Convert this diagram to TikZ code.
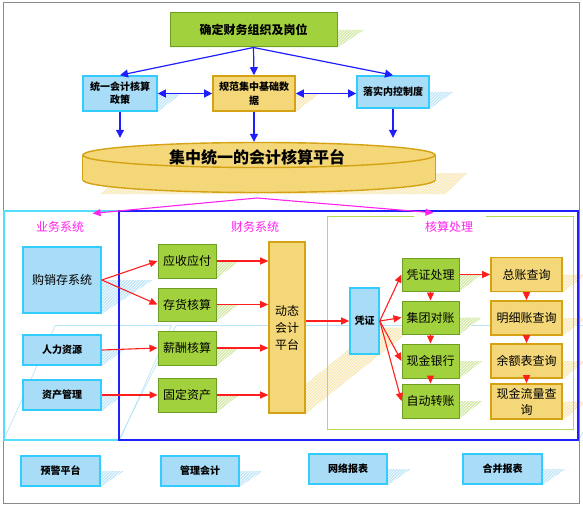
\documentclass[tikz,border=0pt]{standalone}
\usepackage{fontspec}
\setmainfont{Noto Sans CJK SC}
\usetikzlibrary{positioning, arrows.meta, calc, patterns, shapes.geometric}
\definecolor{grnfill}{HTML}{A2D13E}
\definecolor{grnline}{HTML}{6E9E24}
\definecolor{bluefill}{HTML}{A8DCF7}
\definecolor{blueline}{HTML}{33CCFF}
\definecolor{orgfill}{HTML}{F3D779}
\definecolor{orgline}{HTML}{D4A212}
\definecolor{arrowblue}{HTML}{1E1EFF}
\definecolor{arrowred}{HTML}{FF1E1E}
\definecolor{pinkline}{HTML}{FF22EE}
\definecolor{framecyan}{HTML}{55DDFF}
\definecolor{frameblue}{HTML}{2020FF}
\definecolor{framegreen}{HTML}{B2DC52}
\definecolor{outergray}{HTML}{8A8A8A}
\pgfdeclarelayer{background}
\pgfsetlayers{background,main}

% sheared shadow behind a node: node, shear factor, style
\newcommand{\shadowpoly}[3]{%
  \path[#3] let \p1=(#1.south west), \p2=(#1.east), \p3=(#1.south east),
      \n1={#2*(\y2-\y1)} in
    (\p1) -- (\p3) -- ({\x3+\n1},\y2) -- ({\x1+\n1},\y2) -- cycle;}

\begin{document}
\begin{tikzpicture}[
    x=1pt, y=-1pt,
    box/.style={rectangle, align=center, inner sep=1pt},
    greenbox/.style={box, draw=grnline, line width=1pt, fill=grnfill, minimum width=58pt, minimum height=34pt, font=\fontsize{12}{14}\selectfont},
    bluebox/.style={box, draw=blueline, line width=1.6pt, fill=bluefill, minimum width=78pt, minimum height=30pt, font=\fontsize{10}{13}\selectfont\bfseries},
    orangebox/.style={box, draw=orgline, line width=1.6pt, fill=orgfill, minimum width=71pt, minimum height=34pt, font=\fontsize{12}{16}\selectfont},
    syslabel/.style={text=pinkline, font=\fontsize{12}{14}\selectfont, inner sep=2pt},
    bluearrow/.style={arrowblue, line width=1.2pt, -{Triangle[length=8pt,width=8pt]}},
    bluedouble/.style={arrowblue, line width=1.2pt, {Triangle[length=8pt,width=8pt]}-{Triangle[length=8pt,width=8pt]}},
    redarrow/.style={arrowred, line width=1.1pt, -{Triangle[length=8pt,width=7pt]}},
    pinkarrow/.style={pinkline, line width=1.1pt, -{Triangle[length=8pt,width=7pt]}},
    gshadow/.style={fill=grnfill!45, postaction={pattern=north east lines, pattern color=white}},
    bshadow/.style={fill=bluefill!70, postaction={pattern=north east lines, pattern color=white}},
    oshadow/.style={fill=orgfill!55, postaction={pattern=north east lines, pattern color=white}},
    fshadow/.style={draw=bluefill!80, line width=0.7pt}
]
\useasboundingbox (0,0) rectangle (583,508);
\draw[outergray, line width=1pt] (3,3) rectangle (579,503);

% ==================== TOP PART ====================
\node[greenbox, minimum width=167pt, font=\fontsize{12}{14}\selectfont\bfseries] (org) at (253.5,30) {确定财务组织及岗位};
\node[bluebox, minimum width=74pt, minimum height=35pt] (policy) at (120,93.5) {统一会计核算\\政策};
\node[orangebox, minimum width=82pt, minimum height=35pt, font=\fontsize{10}{14}\selectfont\bfseries] (basedata) at (254,93.5) {规范集中基础数\\据};
\node[bluebox, minimum width=72pt, minimum height=32pt] (control) at (393,92) {落实内控制度};

% cylinder
\node[ellipse, draw=orgline, fill=orgfill, line width=1.4pt, minimum width=352pt, minimum height=25pt, inner sep=0pt] (pbot) at (259,180) {};
\fill[orgfill] (pbot.west) rectangle ($(pbot.east)+(0,-25)$);
\draw[orgline, line width=1.4pt] (pbot.west) -- ++(0,-25);
\draw[orgline, line width=1.4pt] (pbot.east) -- ++(0,-25);
\node[ellipse, draw=orgline, fill=orgfill, line width=1.4pt, minimum width=352pt, minimum height=25pt, inner sep=0pt] (ptop) at (259,155) {};
\node[font=\fontsize{16}{18}\selectfont\bfseries] (platform) at (257,157) {集中统一的会计核算平台};
\coordinate (split) at (257,198);

% ==================== FRAMES ====================
\node[draw=framecyan, line width=1.2pt, minimum width=115pt, minimum height=229pt] (bizframe) at (61.5,325.5) {};
\node[draw=frameblue, line width=1.2pt, minimum width=459pt, minimum height=229pt] (finframe) at (348.5,325.5) {};
\node[minimum width=245pt, minimum height=212pt] (accframe) at (450.5,323) {};
\draw[framegreen, line width=1pt] ([xshift=-37pt]accframe.north) -| (accframe.south west) -| (accframe.north east) -- ([xshift=35pt]accframe.north);

\node[syslabel] (bizlabel) at (60,227) {业务系统};
\node[syslabel] (finlabel) at (255,227) {财务系统};
\node[syslabel] (acclabel) at (449,227) {核算处理};

% ==================== BUSINESS SYSTEM ====================
\node[bluebox, minimum height=66pt, font=\fontsize{12}{14}\selectfont] (gxc) at (62,280) {购销存系统};
\node[bluebox] (hr) at (62,350) {人力资源};
\node[bluebox] (asset) at (62,395) {资产管理};

% ==================== FINANCE SYSTEM ====================
\node[greenbox] (ar) at (187,261) {应收应付};
\node[greenbox, minimum height=33pt] (inv) at (187,304.5) {存货核算};
\node[greenbox] (pay) at (187,348) {薪酬核算};
\node[greenbox] (fix) at (187,395) {固定资产};
\node[orangebox, minimum width=36pt, minimum height=171pt, font=\fontsize{12}{17}\selectfont] (dyn) at (287,327.5) {动态\\会计\\平台};

\node[bluebox, minimum width=29pt, minimum height=66pt, font=\fontsize{10}{12}\selectfont\bfseries] (voucher) at (364.5,321) {凭证};
\node[greenbox, minimum width=57pt, minimum height=33pt] (vproc) at (430.5,274.5) {凭证处理};
\node[greenbox, minimum width=57pt, minimum height=33pt] (group) at (430.5,317.5) {集团对账};
\node[greenbox, minimum width=57pt] (cash) at (430.5,361) {现金银行};
\node[greenbox, minimum width=57pt] (auto) at (430.5,401) {自动转账};

\node[orangebox] (ledger) at (526.5,274.5) {总账查询};
\node[orangebox] (detail) at (526.5,318) {明细账查询};
\node[orangebox] (balance) at (526.5,361) {余额表查询};
\node[orangebox, minimum height=35pt] (cashflow) at (526.5,401.5) {现金流量查\\询};

% ==================== BOTTOM ROW ====================
\node[bluebox, minimum width=79pt] (warn) at (60.5,471) {预警平台};
\node[bluebox] (mgmt) at (200,471) {管理会计};
\node[bluebox] (netrep) at (348,469) {网络报表};
\node[bluebox, minimum width=79pt] (consol) at (502.5,469) {合并报表};

% ==================== SHADOWS ====================
\begin{pgfonlayer}{background}
\shadowpoly{bizframe}{0.45}{fshadow}
\shadowpoly{finframe}{0.5}{fshadow}
\shadowpoly{org}{1.5}{gshadow}
\shadowpoly{policy}{1.3}{bshadow}
\shadowpoly{basedata}{1.3}{oshadow}
\shadowpoly{control}{1.4}{bshadow}
\fill[oshadow] (100,194) -- (445,194) -- (468,173) -- (125,173) -- cycle;
\shadowpoly{gxc}{1.5}{bshadow}
\shadowpoly{hr}{1.4}{bshadow}
\shadowpoly{asset}{1.4}{bshadow}
\foreach \bx in {ar, inv, pay, fix, vproc, group, cash, auto}
  {\shadowpoly{\bx}{1.3}{gshadow}}
\shadowpoly{dyn}{1.25}{oshadow}
\foreach \bx in {ledger, detail, balance, cashflow}
  {\shadowpoly{\bx}{1.3}{oshadow}}
\foreach \bx in {warn, mgmt, netrep, consol}
  {\shadowpoly{\bx}{1.45}{bshadow}}
\end{pgfonlayer}

% ==================== ARROWS ====================
% top part
\draw[bluearrow] (org.south) -- (policy.north);
\draw[bluearrow] (org.south) -- (basedata.north);
\draw[bluearrow] (org.south) -- (control.north);
\draw[bluedouble] (policy.east) -- (basedata.west);
\draw[bluedouble] (basedata.east) -- (basedata.east -| control.west);
\draw[bluearrow, shorten >=4pt] (policy.south) -- (policy.south |- ptop.north);
\draw[bluearrow] (basedata.south) -- (basedata.south |- ptop.north);
\draw[bluearrow, shorten >=4pt] (control.south) -- (control.south |- ptop.north);

% platform split
\draw[pinkarrow] (split) -- ($(bizframe.north east)+(-27,3)$);
\draw[pinkarrow] (split) -- ($(accframe.north)+(-17,-4)$);

% business to finance
\draw[redarrow] (gxc.east) -- (ar.west);
\draw[redarrow] (gxc.east) -- (inv.west);
\draw[redarrow] (hr.east) -- (pay.west);
\draw[redarrow] (asset.east) -- (fix.west);
\foreach \bx in {ar, inv, pay, fix}
  {\draw[redarrow] (\bx.east) -- (\bx.east -| dyn.west);}
\draw[redarrow] (dyn.east |- voucher.west) -- (voucher.west);

% accounting
\foreach \bx in {vproc, group, cash, auto}
  {\draw[redarrow] (voucher.east) -- (\bx.west);}
\draw[redarrow] (vproc) -- (group);
\draw[redarrow] (group) -- (cash);
\draw[redarrow] (cash) -- (auto);
\draw[redarrow] (vproc.east) -- (ledger.west);
\draw[redarrow] (ledger) -- (detail);
\draw[redarrow] (detail) -- (balance);
\draw[redarrow] (balance) -- (cashflow);

\end{tikzpicture}
\end{document}
